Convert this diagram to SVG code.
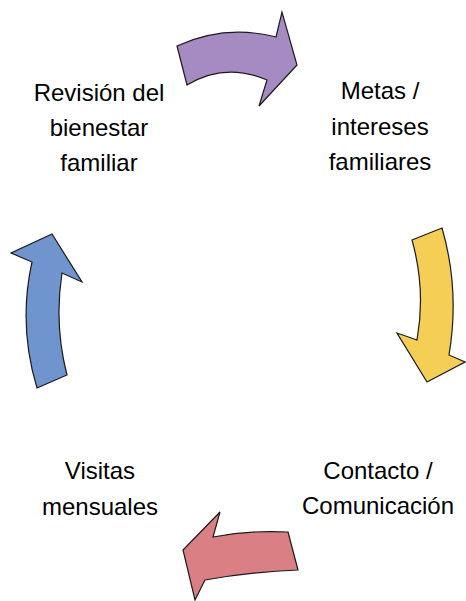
<svg xmlns="http://www.w3.org/2000/svg" width="466" height="601" viewBox="0 0 466 601">
<style>
.lbl{font-family:"Liberation Sans",Arial,sans-serif;font-size:24px;fill:#000;text-anchor:middle}
.arr{stroke:#1a1a1a;stroke-width:1.2;stroke-linejoin:miter}
</style>
<rect width="466" height="601" fill="#fff"/>
<g id="connectors">
<path id="arrow-purple" class="arr" fill="#A68BC3" d="M177,46 Q225,24 276,37 L282,12 L297,65 L259,106 L267,80 Q225,62 187,85 Z"/>
<path id="arrow-yellow" class="arr" fill="#F5CF55" d="M412,240 L442,228 Q460,290 449,355 L465,362 L427,382 L397,333 L417,340 Q426,290 412,240 Z"/>
<path id="arrow-red" class="arr" fill="#DA8084" d="M288,532 L298,570 Q250,572 205,580 L195,600 L183,550 L220,512 L213,537 Q250,530 288,532 Z"/>
<path id="arrow-blue" class="arr" fill="#7094CD" d="M37,388 L67,375 Q54,325 62,273 L82,282 L52,234 L11,253 L32,262 Q18,325 37,388 Z"/>
</g>
<g id="node-revision">
<text class="lbl" x="99" y="101">Revisión del</text>
<text class="lbl" x="99" y="136">bienestar</text>
<text class="lbl" x="99" y="171">familiar</text>
</g>
<g id="node-metas">
<text class="lbl" x="380" y="99">Metas /</text>
<text class="lbl" x="380" y="135">intereses</text>
<text class="lbl" x="380" y="170">familiares</text>
</g>
<g id="node-contacto">
<text class="lbl" x="378" y="479">Contacto /</text>
<text class="lbl" x="378" y="514">Comunicación</text>
</g>
<g id="node-visitas">
<text class="lbl" x="100" y="479">Visitas</text>
<text class="lbl" x="100" y="515">mensuales</text>
</g>
</svg>
